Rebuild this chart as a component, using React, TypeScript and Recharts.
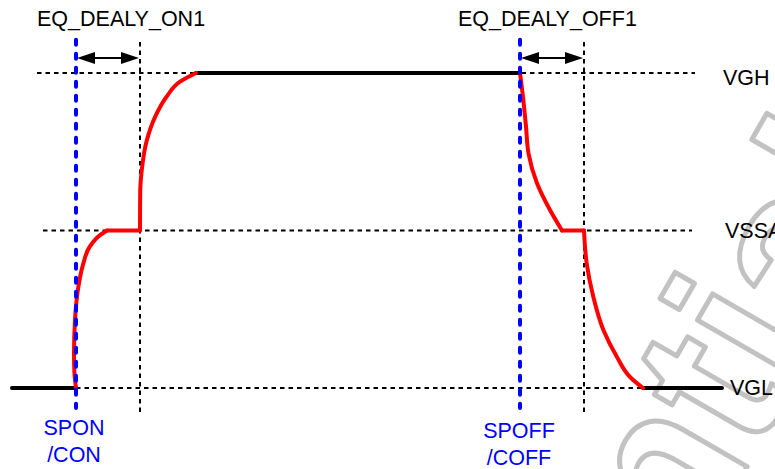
import { ComposedChart, Line, XAxis, YAxis, ReferenceLine, ReferenceDot } from "recharts";

// signal levels (arbitrary units), time axis in arbitrary units
const VGL = 0;
const VSSA = 1;
const VGH = 2;

const lowStart = [
  { t: 12, v: VGL },
  { t: 76, v: VGL },
];
const onRise1 = [
  { t: 76, v: 0 },
  { t: 74.4, v: 0.1 },
  { t: 74, v: 0.22 },
  { t: 75, v: 0.43 },
  { t: 78.3, v: 0.64 },
  { t: 83.3, v: 0.79 },
  { t: 90, v: 0.9 },
  { t: 100, v: 0.97 },
  { t: 107, v: 1 },
];
const onHold = [
  { t: 107, v: VSSA },
  { t: 140, v: VSSA },
];
const onRise2 = [
  { t: 140, v: 1 },
  { t: 140.2, v: 1.24 },
  { t: 141.7, v: 1.38 },
  { t: 146.7, v: 1.57 },
  { t: 155, v: 1.72 },
  { t: 166.7, v: 1.85 },
  { t: 180, v: 1.945 },
  { t: 196, v: 2 },
];
const highHold = [
  { t: 196, v: VGH },
  { t: 520, v: VGH },
];
const offFall1 = [
  { t: 520, v: 2 },
  { t: 523.3, v: 1.83 },
  { t: 526, v: 1.66 },
  { t: 528.5, v: 1.49 },
  { t: 537, v: 1.3 },
  { t: 550, v: 1.13 },
  { t: 562, v: 1 },
];
const offHold = [
  { t: 562, v: VSSA },
  { t: 584, v: VSSA },
];
const offFall2 = [
  { t: 584, v: 1 },
  { t: 586.7, v: 0.79 },
  { t: 593.3, v: 0.58 },
  { t: 603.3, v: 0.37 },
  { t: 616.7, v: 0.2 },
  { t: 630, v: 0.07 },
  { t: 643, v: 0 },
];
const lowEnd = [
  { t: 643, v: VGL },
  { t: 722, v: VGL },
];

const segments = [
  { name: "lowStart", data: lowStart, color: "#000000", curve: "linear" },
  { name: "highHold", data: highHold, color: "#000000", curve: "linear" },
  { name: "lowEnd", data: lowEnd, color: "#000000", curve: "linear" },
  { name: "onRise1", data: onRise1, color: "#ff0000", curve: "monotoneY" },
  { name: "onHold", data: onHold, color: "#ff0000", curve: "linear" },
  { name: "onRise2", data: onRise2, color: "#ff0000", curve: "monotoneY" },
  { name: "offFall1", data: offFall1, color: "#ff0000", curve: "monotoneY" },
  { name: "offHold", data: offHold, color: "#ff0000", curve: "linear" },
  { name: "offFall2", data: offFall2, color: "#ff0000", curve: "monotoneY" },
];

// dotted level guides
const levelGuides = [
  { v: VGH, from: 37, to: 695 },
  { v: VSSA, from: 43, to: 692 },
  { v: VGL, from: 76, to: 642 },
];

// event markers (blue) and delay ends (black)
const events = [76, 520];
const delayEnds = [140, 584];
const delays = [
  { from: 76, to: 140 },
  { from: 520, to: 584 },
];

const labels = [
  { text: "EQ_DEALY_ON1", t: 37, v: 2.3, anchor: "start", color: "#000" },
  { text: "EQ_DEALY_OFF1", t: 458, v: 2.3, anchor: "start", color: "#000" },
  { text: "VGH", t: 723, v: 1.924, anchor: "start", color: "#000" },
  { text: "VSSA", t: 725, v: 0.952, anchor: "start", color: "#000" },
  { text: "VGL", t: 730, v: -0.044, anchor: "start", color: "#000" },
  { text: "SPON", t: 74, v: -0.298, anchor: "middle", color: "#0000ff" },
  { text: "/CON", t: 74, v: -0.47, anchor: "middle", color: "#0000ff" },
  { text: "SPOFF", t: 519, v: -0.317, anchor: "middle", color: "#0000ff" },
  { text: "/COFF", t: 519, v: -0.489, anchor: "middle", color: "#0000ff" },
];

const FONT = "'Liberation Sans', Arial, sans-serif";

const Arrow = (p: any) => {
  const { x1, y1, x2, y2 } = p;
  const L = 18;
  const H = 6;
  return (
    <g>
      <line x1={x1 + L - 2} y1={y1} x2={x2 - L + 2} y2={y2} stroke="#000" strokeWidth={2} />
      <polygon points={`${x1},${y1} ${x1 + L},${y1 - H} ${x1 + L},${y1 + H}`} fill="#000" />
      <polygon points={`${x2},${y2} ${x2 - L},${y2 - H} ${x2 - L},${y2 + H}`} fill="#000" />
    </g>
  );
};

const Watermark = () => (
  <svg width={775} height={469} style={{ position: "absolute", left: 0, top: 0 }}>
    <text
      x={595}
      y={730}
      transform="rotate(-60, 595, 730)"
      textAnchor="middle"
      fontFamily={FONT}
      fontWeight="bold"
      fontSize={220}
      fill="none"
      stroke="#c2c2c2"
      strokeWidth={5}
      strokeLinejoin="round"
    >
      Confidential
    </text>
  </svg>
);

const App = () => {
  return (
    <div style={{ position: "absolute", left: 0, top: 0, width: 775, height: 469, background: "#fff" }}>
      <Watermark />
      <div style={{ position: "absolute", left: 0, top: 0 }}>
        <ComposedChart width={775} height={469} margin={{ top: 0, right: 0, bottom: 0, left: 0 }}>
          <XAxis type="number" dataKey="t" domain={[0, 775]} hide allowDataOverflow />
          <YAxis type="number" dataKey="v" domain={[-0.514, 2.463]} hide allowDataOverflow />

          {levelGuides.map((g) => (
            <ReferenceLine
              key={`lv${g.v}`}
              segment={[
                { x: g.from, y: g.v },
                { x: g.to, y: g.v },
              ]}
              stroke="#000"
              strokeWidth={2}
              strokeDasharray="4.5 4"
            />
          ))}
          {delayEnds.map((t) => (
            <ReferenceLine
              key={`de${t}`}
              segment={[
                { x: t, y: 2.197 },
                { x: t, y: -0.159 },
              ]}
              stroke="#000"
              strokeWidth={2}
              strokeDasharray="4.5 4"
            />
          ))}

          {segments.map((s) => (
            <Line
              key={s.name}
              data={s.data}
              dataKey="v"
              type={s.curve as any}
              stroke={s.color}
              strokeWidth={4}
              strokeLinecap="round"
              dot={false}
              activeDot={false}
              isAnimationActive={false}
            />
          ))}

          {events.map((t) => (
            <ReferenceLine
              key={`ev${t}`}
              segment={[
                { x: t, y: 2.21 },
                { x: t, y: -0.127 },
              ]}
              stroke="#0000ff"
              strokeWidth={4}
              strokeDasharray="5 9"
              strokeLinecap="round"
            />
          ))}

          {delays.map((d) => (
            <ReferenceLine
              key={`ar${d.from}`}
              segment={[
                { x: d.from + 1, y: 2.095 },
                { x: d.to - 1, y: 2.095 },
              ]}
              shape={Arrow}
            />
          ))}

          {labels.map((l) => (
            <ReferenceDot
              key={l.text}
              x={l.t}
              y={l.v}
              r={0}
              ifOverflow="visible"
              shape={(p: any) => (
                <text
                  x={p.cx}
                  y={p.cy}
                  textAnchor={l.anchor as any}
                  fontFamily={FONT}
                  fontSize={21.5}
                  fill={l.color}
                >
                  {l.text}
                </text>
              )}
            />
          ))}
        </ComposedChart>
      </div>
    </div>
  );
};

export default App;
